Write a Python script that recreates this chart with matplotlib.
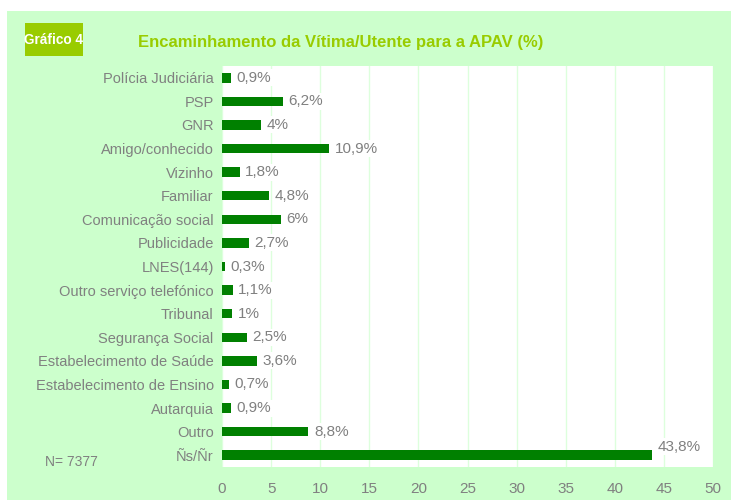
import matplotlib
matplotlib.use("Agg")
import matplotlib.pyplot as plt
from matplotlib.patches import Rectangle
from matplotlib import font_manager

# dados do gráfico
categorias = ['Polícia Judiciária', 'PSP', 'GNR', 'Amigo/conhecido', 'Vizinho', 'Familiar',
              'Comunicação social', 'Publicidade', 'LNES(144)', 'Outro serviço telefónico',
              'Tribunal', 'Segurança Social', 'Estabelecimento de Saúde',
              'Estabelecimento de Ensino', 'Autarquia', 'Outro', 'Ñs/Ñr']
valores = [0.9, 6.2, 4, 10.9, 1.8, 4.8, 6, 2.7, 0.3, 1.1, 1, 2.5, 3.6, 0.7, 0.9, 8.8, 43.8]
rotulos = ['0,9%', '6,2%', '4%', '10,9%', '1,8%', '4,8%', '6%', '2,7%', '0,3%', '1,1%',
           '1%', '2,5%', '3,6%', '0,7%', '0,9%', '8,8%', '43,8%']
xticks = [0, 5, 10, 15, 20, 25, 30, 35, 40, 45, 50]

nomes = {f.name for f in font_manager.fontManager.ttflist}
fonte = 'Liberation Sans Narrow' if 'Liberation Sans Narrow' in nomes else 'Liberation Sans'
plt.rcParams['font.family'] = [fonte, 'DejaVu Sans']

cinza = '#808080'
verde_fundo = '#CCFFCC'
verde_titulo = '#99CC00'

fig = plt.figure(figsize=(7.31, 5.00), dpi=100, facecolor='white')
fundo = Rectangle((7 / 731, 0), 1, 1 - 11 / 500, transform=fig.transFigure,
                  facecolor=verde_fundo, edgecolor='none', zorder=-2)
fig.patches.append(fundo)
caixa = Rectangle((25 / 731, 1 - 56 / 500), 58 / 731, 33 / 500, transform=fig.transFigure,
                  facecolor=verde_titulo, edgecolor='none', zorder=-1)
fig.patches.append(caixa)

ax = fig.add_axes([222 / 731, 1 - 467 / 500, (713 - 222) / 731, (467 - 66) / 500])
ax.set_zorder(1)
ax.set_facecolor('white')
y = list(range(len(categorias)))
ax.barh(y, valores, height=0.4, color='#008000', zorder=2)
ax.set_ylim(len(categorias) - 0.5, -0.5)
ax.set_xlim(0, 50)
ax.set_xticks(xticks)
ax.set_yticks(y)
ax.set_yticklabels(categorias, fontsize=10.5, color=cinza)
ax.tick_params(axis='x', labelsize=11, labelcolor=cinza, length=0, pad=11)
ax.tick_params(axis='y', length=0, pad=6)
ax.grid(axis='x', color='#DDFFDD', linewidth=1, zorder=1)
for s in ax.spines.values():
    s.set_visible(False)

for i, (v, r) in enumerate(zip(valores, rotulos)):
    dy = 6 if i == len(valores) - 1 else 0
    ax.annotate(r, (v, i), xytext=(4, dy), textcoords='offset points',
                va='center', ha='left', fontsize=11, color=cinza, zorder=3,
                bbox=dict(boxstyle='square,pad=0.1', facecolor='white', edgecolor='none'))

fig.text(54 / 731, 1 - 40 / 500, 'Gráfico 4', fontsize=9.8, fontweight='bold', color='white',
         va='center', ha='center', zorder=2)
fig.text(138 / 731, 1 - 43 / 500, 'Encaminhamento da Vítima/Utente para a APAV (%)',
         fontsize=12, fontweight='bold', color=verde_titulo, va='center', ha='left')
fig.text(45 / 731, 1 - 462 / 500, 'N= 7377', fontsize=10, color=cinza, va='center', ha='left')

fig.savefig('out.png', dpi=100, facecolor='white')
